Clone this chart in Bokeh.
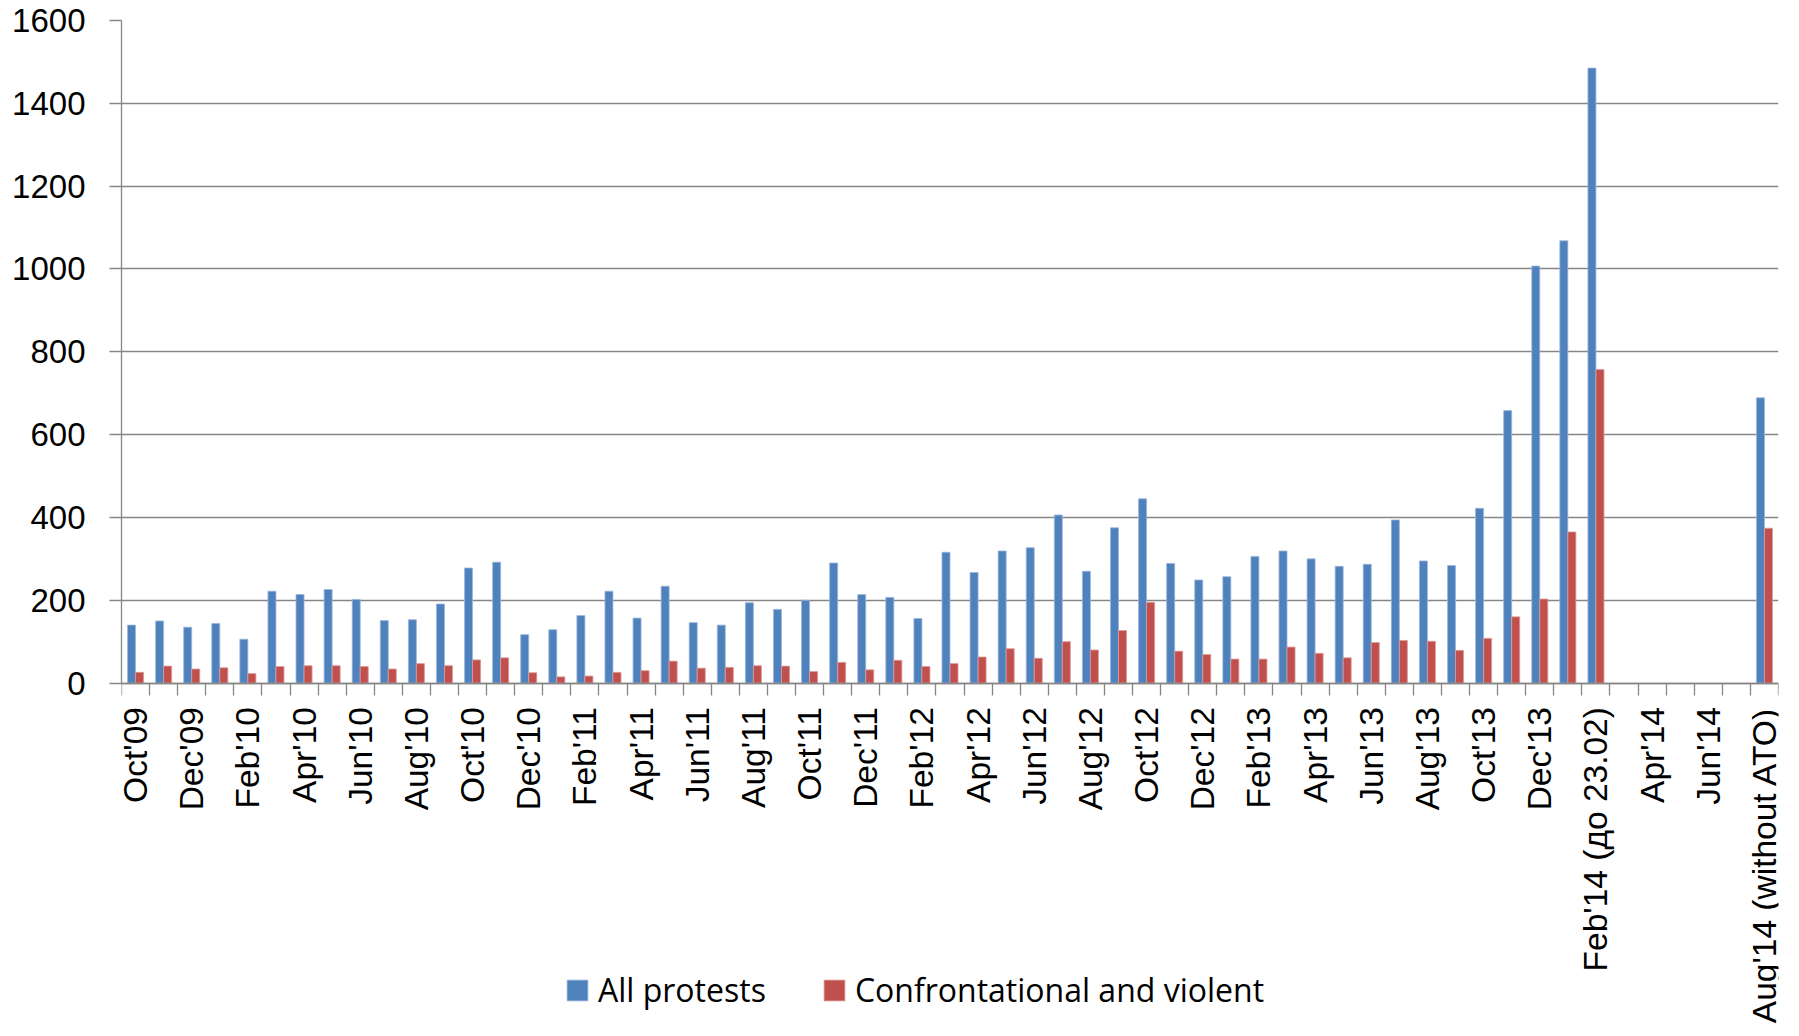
import math

from bokeh.plotting import figure
from bokeh.models import (ColumnDataSource, FixedTicker, Range1d, Legend, LegendItem)
from bokeh.transform import dodge
from bokeh.embed import file_html
from bokeh.resources import INLINE

# Monthly protest counts, Oct 2009 - Aug 2014 (no data Mar-Jul 2014)
months = [
    "Oct'09", "Nov'09", "Dec'09",
    "Jan'10", "Feb'10", "Mar'10", "Apr'10", "May'10", "Jun'10",
    "Jul'10", "Aug'10", "Sep'10", "Oct'10", "Nov'10", "Dec'10",
    "Jan'11", "Feb'11", "Mar'11", "Apr'11", "May'11", "Jun'11",
    "Jul'11", "Aug'11", "Sep'11", "Oct'11", "Nov'11", "Dec'11",
    "Jan'12", "Feb'12", "Mar'12", "Apr'12", "May'12", "Jun'12",
    "Jul'12", "Aug'12", "Sep'12", "Oct'12", "Nov'12", "Dec'12",
    "Jan'13", "Feb'13", "Mar'13", "Apr'13", "May'13", "Jun'13",
    "Jul'13", "Aug'13", "Sep'13", "Oct'13", "Nov'13", "Dec'13",
    "Jan'14", "Feb'14 (до 23.02)", "Mar'14", "Apr'14", "May'14", "Jun'14",
    "Jul'14", "Aug'14 (without ATO)",
]

all_protests = [
    140, 150, 135,
    144, 106, 222, 214, 226, 202, 151, 153, 191, 278, 292, 117,
    129, 163, 222, 157, 234, 146, 140, 194, 178, 200, 290, 214,
    207, 156, 316, 267, 319, 327, 406, 270, 375, 445, 289, 249,
    257, 306, 319, 300, 282, 287, 394, 295, 284, 422, 658, 1007,
    1068, 1485, None, None, None, None, None, 689,
]

confrontational = [
    26, 41, 34,
    37, 23, 40, 42, 42, 40, 34, 47, 42, 56, 61, 25,
    15, 17, 26, 30, 53, 36, 38, 42, 41, 28, 50, 32,
    55, 40, 47, 63, 83, 60, 100, 80, 127, 195, 77, 69,
    58, 58, 87, 72, 61, 98, 103, 101, 79, 108, 160, 203,
    365, 757, None, None, None, None, None, 374,
]

series_names = ["All protests", "Confrontational and violent"]
BLUE = "#4F81BD"
RED = "#C0504D"
GRID = "#868686"

W, H = 1799, 1036
TOP, LEFT, RIGHT = 20, 121, 21
Y_MAX = 1600
ZERO_PX = 682.6          # pixel row of the value axis origin
n = len(months)
bar_w = 1 / 3.5          # Excel-style 150% gap width

# The frame runs to the bottom edge so the month labels and the legend
# live inside it; the category axis is pinned at y = 0.
frame_h = H - TOP
y_min = -Y_MAX * (frame_h - (ZERO_PX - TOP)) / (ZERO_PX - TOP)


def source_for(values):
    idx = [i + 0.5 for i, v in enumerate(values) if v is not None]
    vals = [v for v in values if v is not None]
    return ColumnDataSource(dict(x=idx, top=vals))


p = figure(
    width=W, height=H,
    x_range=Range1d(0, n), y_range=Range1d(y_min, Y_MAX),
    output_backend="svg", toolbar_location=None,
    min_border_left=LEFT, min_border_right=RIGHT,
    min_border_top=TOP, min_border_bottom=0,
)
p.outline_line_color = None
p.background_fill_color = "white"
p.border_fill_color = "white"

r_all = p.vbar(x=dodge("x", -bar_w / 2, range=p.x_range), top="top", width=bar_w,
               source=source_for(all_protests), fill_color=BLUE,
               line_color="#9db8da", line_width=0.8)
r_conf = p.vbar(x=dodge("x", bar_w / 2, range=p.x_range), top="top", width=bar_w,
                source=source_for(confrontational), fill_color=RED,
                line_color="#dc9a98", line_width=0.8)

# value axis
p.yaxis.bounds = (0, Y_MAX)
p.yaxis.ticker = FixedTicker(ticks=list(range(0, Y_MAX + 1, 200)))
p.yaxis.axis_line_color = GRID
p.yaxis.axis_line_width = 1.3
p.yaxis.major_tick_line_color = GRID
p.yaxis.major_tick_line_width = 1.3
p.yaxis.major_tick_out = 12
p.yaxis.major_tick_in = 0
p.yaxis.minor_tick_line_color = None
p.yaxis.major_label_standoff = 24
p.yaxis.major_label_text_font = "Liberation Sans"
p.yaxis.major_label_text_font_size = "33px"
p.yaxis.major_label_text_color = "black"

p.ygrid.grid_line_color = GRID
p.ygrid.grid_line_width = 1.3
p.xgrid.grid_line_color = None

# category axis: tick marks on month boundaries, labels every other month
label_idx = list(range(0, n, 2))
xa = p.xaxis[0]
xa.fixed_location = 0
xa.ticker = FixedTicker(ticks=[i + 0.5 for i in label_idx],
                        minor_ticks=list(range(0, n + 1)))
xa.major_label_overrides = {i + 0.5: months[i] for i in label_idx}
xa.major_label_orientation = math.pi / 2
xa.major_tick_line_color = None
xa.major_tick_out = 0
xa.major_tick_in = 0
xa.minor_tick_line_color = GRID
xa.minor_tick_line_width = 1.3
xa.minor_tick_out = 12
xa.minor_tick_in = 0
xa.axis_line_color = GRID
xa.axis_line_width = 1.3
xa.major_label_standoff = 12
xa.major_label_text_font = "Liberation Sans"
xa.major_label_text_font_size = "33.5px"
xa.major_label_text_color = "black"

legend = Legend(
    items=[LegendItem(label=series_names[0], renderers=[r_all]),
           LegendItem(label=series_names[1], renderers=[r_conf])],
    orientation="horizontal",
    location=(443, 25),
    glyph_width=26, glyph_height=26,
    label_standoff=8, spacing=55,
    padding=0, margin=0,
    border_line_color=None, background_fill_alpha=0,
    label_text_font="Open Sans", label_text_font_size="32px",
    label_text_color="black",
)
p.add_layout(legend, "center")

open("out.html", "w").write(file_html(p, INLINE))
